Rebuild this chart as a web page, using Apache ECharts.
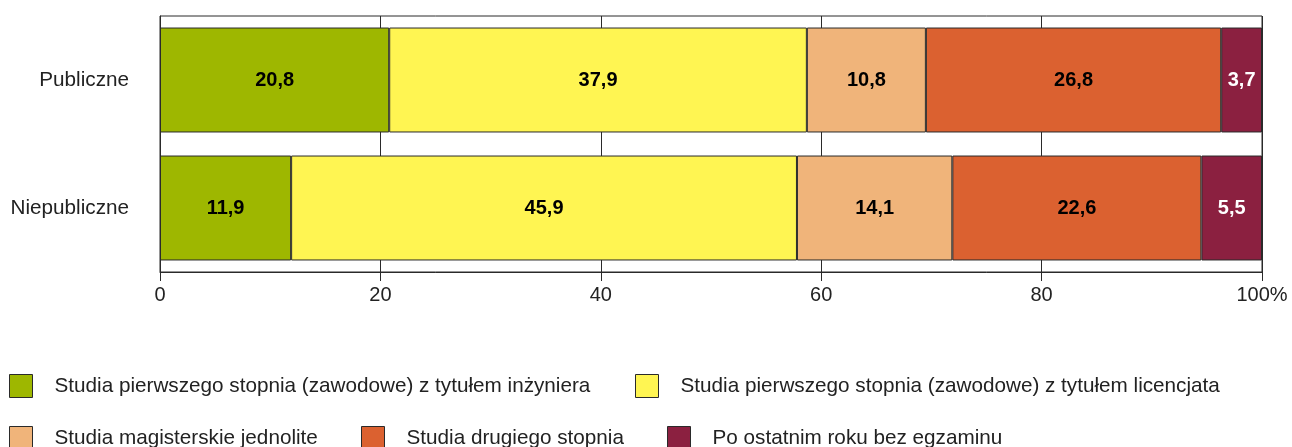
<!DOCTYPE html>
<html>
<head>
<meta charset="utf-8">
<script src="https://cdn.jsdelivr.net/npm/echarts@6/dist/echarts.min.js"></script>
<style>html,body{margin:0;padding:0;background:#fff;}#c{width:1292px;height:447px;}</style>
</head>
<body>
<div id="c"></div>
<script>
var categories = ['Publiczne', 'Niepubliczne'];
var seriesNames = [
  'Studia pierwszego stopnia (zawodowe) z tytułem inżyniera',
  'Studia pierwszego stopnia (zawodowe) z tytułem licencjata',
  'Studia magisterskie jednolite',
  'Studia drugiego stopnia',
  'Po ostatnim roku bez egzaminu'
];
var inzyniera = [20.8, 11.9];
var licencjata = [37.9, 45.9];
var magisterskie = [10.8, 14.1];
var drugiego = [26.8, 22.6];
var poOstatnim = [3.7, 5.5];
var xTicks = [0, 20, 40, 60, 80, 100];

var colors = ['#9eb700', '#fff552', '#f0b47a', '#db6130', '#8b2040'];
var labelColors = ['#000', '#000', '#000', '#000', '#fff'];
var values = [inzyniera, licencjata, magisterskie, drugiego, poOstatnim];
var FONT = '"Liberation Sans", Arial, sans-serif';

var series = values.map(function (d, i) {
  return {
    name: seriesNames[i],
    type: 'bar',
    stack: 'total',
    data: d,
    barWidth: '82%',
    itemStyle: { color: colors[i], borderColor: '#2a2a2a', borderWidth: 1 },
    label: {
      show: true,
      position: 'inside',
      fontFamily: FONT,
      fontSize: 20,
      fontWeight: 'bold',
      color: labelColors[i],
      formatter: function (p) { return p.value.toFixed(1).replace('.', ','); }
    }
  };
});

var legendPos = [
  { left: 9, top: 374 },
  { left: 635, top: 374 },
  { left: 9, top: 426 },
  { left: 361, top: 426 },
  { left: 667, top: 426 }
];
var legends = legendPos.map(function (p, i) {
  return {
    left: p.left,
    top: p.top,
    padding: 0,
    data: [seriesNames[i]],
    icon: 'rect',
    itemWidth: 23,
    itemHeight: 23,
    selectedMode: false,
    itemStyle: { borderColor: '#2a2a2a', borderWidth: 1 },
    textStyle: { fontFamily: FONT, fontSize: 20.7, color: '#222', padding: [0, 0, 0, 17] }
  };
});

var chart = echarts.init(document.getElementById('c'), null, { renderer: 'canvas' });
chart.setOption({
  animation: false,
  backgroundColor: '#fff',
  grid: { left: 160, right: 30, top: 16, bottom: 175, show: true, borderColor: '#2a2a2a', borderWidth: 1, backgroundColor: 'transparent' },
  legend: legends,
  xAxis: {
    type: 'value',
    min: xTicks[0],
    max: xTicks[xTicks.length - 1],
    interval: xTicks[1] - xTicks[0],
    axisLine: { show: true, lineStyle: { color: '#2a2a2a', width: 1 } },
    axisTick: { show: true, length: 9, lineStyle: { color: '#2a2a2a' } },
    splitLine: { show: true, lineStyle: { color: '#2a2a2a', width: 1 } },
    axisLabel: {
      fontFamily: FONT, fontSize: 20, color: '#222', margin: 13,
      formatter: function (v) { return v === 100 ? '100%' : String(v); }
    }
  },
  yAxis: {
    type: 'category',
    data: categories,
    inverse: true,
    axisLine: { show: true, lineStyle: { color: '#2a2a2a' } },
    axisTick: { show: false },
    splitLine: { show: false },
    axisLabel: { fontFamily: FONT, fontSize: 20.7, color: '#222', margin: 31, padding: [3, 0, 0, 0] }
  },
  series: series
});
</script>
</body>
</html>
